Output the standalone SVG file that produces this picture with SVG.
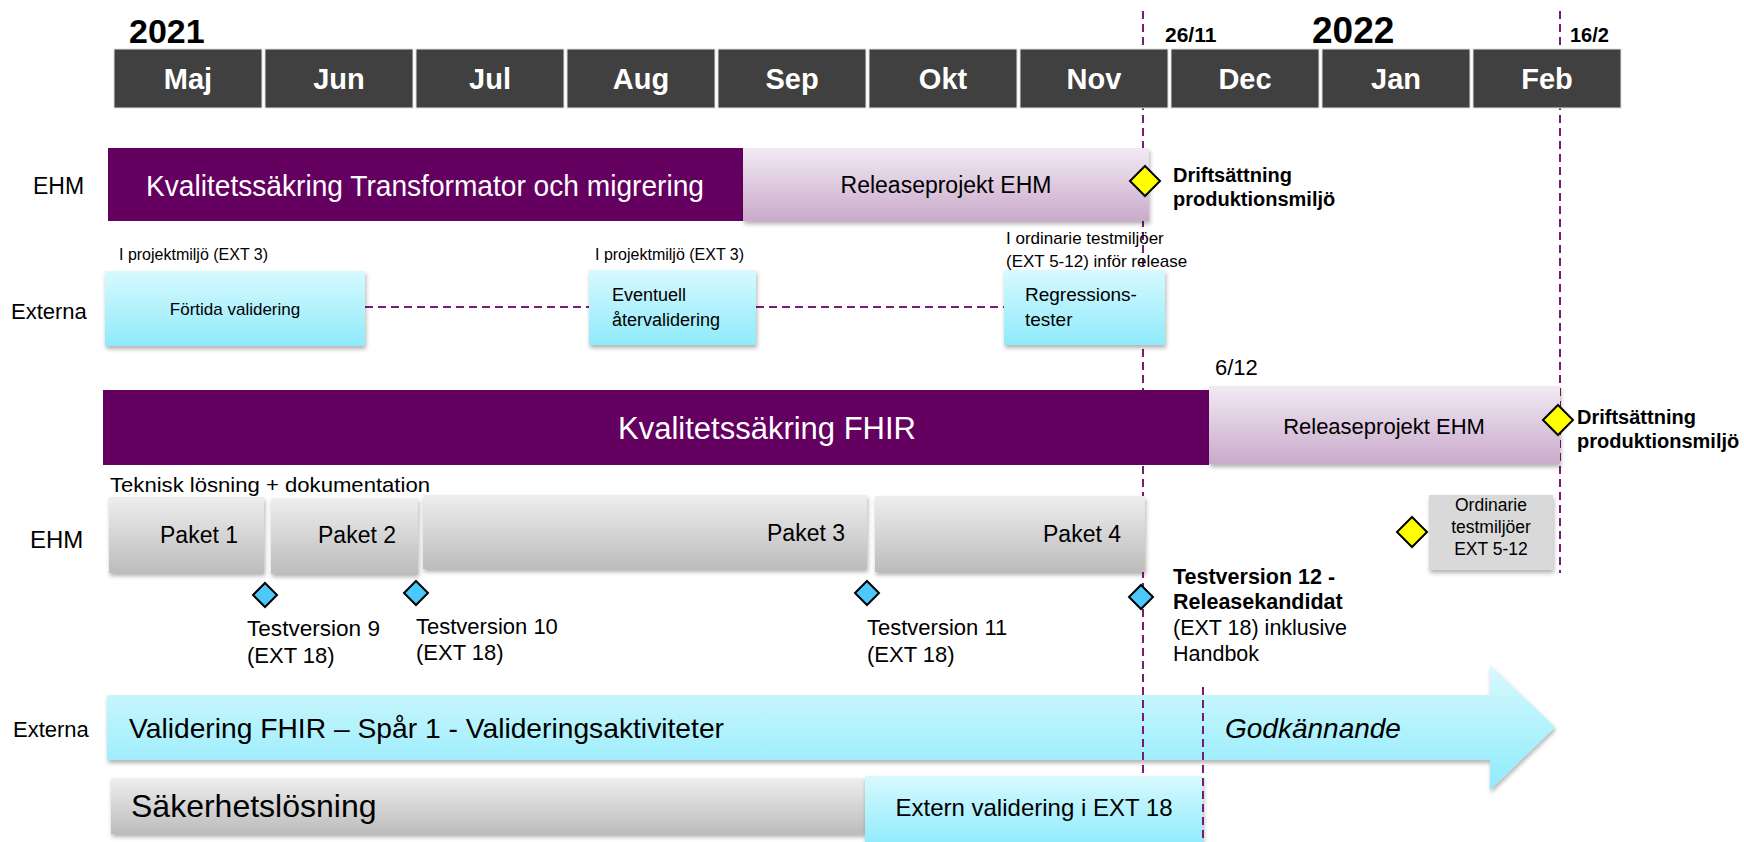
<svg xmlns="http://www.w3.org/2000/svg" width="1744" height="842" viewBox="0 0 1744 842">
<defs>
<linearGradient id="gPurple" x1="0" y1="0" x2="0" y2="1"><stop offset="0" stop-color="#f1eaf3"/><stop offset="1" stop-color="#caaacb"/></linearGradient>
<linearGradient id="gCyan" x1="0" y1="0" x2="0" y2="1"><stop offset="0" stop-color="#d8f9fe"/><stop offset="1" stop-color="#8eebfb"/></linearGradient>
<linearGradient id="gGray" x1="0" y1="0" x2="0" y2="1"><stop offset="0" stop-color="#eeeeee"/><stop offset="1" stop-color="#bcbcbc"/></linearGradient>
<filter id="sh" x="-5%" y="-20%" width="110%" height="150%"><feDropShadow dx="1" dy="3" stdDeviation="2" flood-color="#000" flood-opacity="0.3"/></filter>
</defs>
<style>
text{font-family:"Liberation Sans",Arial,sans-serif;fill:#000}
.mon{fill:#404040;stroke:#e0e0e0;stroke-width:1}
.ml{font-size:29px;font-weight:bold;fill:#fff;text-anchor:middle}
.yr{font-weight:bold}
.dark{fill:#630060}
.lp{fill:url(#gPurple);filter:url(#sh)}
.cy{fill:url(#gCyan);filter:url(#sh)}
.gr{fill:url(#gGray);filter:url(#sh)}
.wt{fill:#fff}
.dash{stroke:#7a1a78;stroke-width:2;stroke-dasharray:8 5;fill:none}
.yd{fill:#ffff00;stroke:#000;stroke-width:2}
.bd{fill:#4cc8fa;stroke:#000;stroke-width:2}
.b{font-weight:bold}
.mid{text-anchor:middle}
</style>

<g id="validering-fhir">
<polygon class="cy" points="107,695 1490,695 1490,665 1555,727 1490,790 1490,760 107,760"/>
<text x="13" y="737" font-size="22">Externa</text>
<text x="129" y="738" font-size="28" textLength="595" lengthAdjust="spacingAndGlyphs">Validering FHIR – Spår 1 - Valideringsaktiviteter</text>
<text x="1225" y="738" font-size="28" font-style="italic">Godkännande</text>
</g>
<g id="sakerhetslosning">
<rect class="gr" x="111" y="778" width="754" height="56"/>
<text x="131" y="817" font-size="32">Säkerhetslösning</text>
</g>
<g id="extern-validering">
<rect class="cy" x="865" y="776" width="338" height="70"/>
<text class="mid" x="1034" y="816" font-size="24">Extern validering i EXT 18</text>
</g>

<g id="connectors">
<line class="dash" x1="1143" y1="11" x2="1143" y2="776"/>
<line class="dash" x1="1560" y1="11" x2="1560" y2="573"/>
<line class="dash" x1="1203" y1="687" x2="1203" y2="842"/>
<line class="dash" x1="365" y1="307" x2="589" y2="307"/>
<line class="dash" x1="756" y1="307" x2="1004" y2="307"/>
</g>

<g id="timeline">
<text class="yr" x="129" y="43" font-size="34">2021</text>
<text class="yr" x="1312" y="43" font-size="37">2022</text>
<text class="yr" x="1165" y="42" font-size="21">26/11</text>
<text class="yr" x="1570" y="42" font-size="20">16/2</text>
<rect class="mon" x="114" y="49" width="148" height="59"/><text class="ml" x="188" y="89">Maj</text>
<rect class="mon" x="265" y="49" width="148" height="59"/><text class="ml" x="339" y="89">Jun</text>
<rect class="mon" x="416" y="49" width="148" height="59"/><text class="ml" x="490" y="89">Jul</text>
<rect class="mon" x="567" y="49" width="148" height="59"/><text class="ml" x="641" y="89">Aug</text>
<rect class="mon" x="718" y="49" width="148" height="59"/><text class="ml" x="792" y="89">Sep</text>
<rect class="mon" x="869" y="49" width="148" height="59"/><text class="ml" x="943" y="89">Okt</text>
<rect class="mon" x="1020" y="49" width="148" height="59"/><text class="ml" x="1094" y="89">Nov</text>
<rect class="mon" x="1171" y="49" width="148" height="59"/><text class="ml" x="1245" y="89">Dec</text>
<rect class="mon" x="1322" y="49" width="148" height="59"/><text class="ml" x="1396" y="89">Jan</text>
<rect class="mon" x="1473" y="49" width="148" height="59"/><text class="ml" x="1547" y="89">Feb</text>
</g>

<g id="row-ehm-1">
<text x="33" y="194" font-size="23">EHM</text>
<rect class="dark" x="108" y="148" width="635" height="73"/>
<text class="wt mid" x="425" y="196" font-size="30" textLength="558" lengthAdjust="spacingAndGlyphs">Kvalitetssäkring Transformator och migrering</text>
</g>
<g id="release-ehm-1">
<rect class="lp" x="743" y="148" width="406" height="73"/>
<text class="mid" x="946" y="193" font-size="23">Releaseprojekt EHM</text>
</g>
<g id="drift-1">
<polygon class="yd" points="1145,166 1160,181 1145,196 1130,181"/>
<text class="b" x="1173" y="182" font-size="20">Driftsättning</text>
<text class="b" x="1173" y="206" font-size="20">produktionsmiljö</text>
</g>

<g id="fortida">
<text x="11" y="319" font-size="22">Externa</text>
<text x="119" y="260" font-size="16">I projektmiljö (EXT 3)</text>
<rect class="cy" x="105" y="271" width="260" height="75"/>
<text class="mid" x="235" y="315" font-size="17">Förtida validering</text>
</g>
<g id="atervalidering">
<text x="595" y="260" font-size="16">I projektmiljö (EXT 3)</text>
<rect class="cy" x="589" y="270" width="167" height="75"/>
<text x="612" y="301" font-size="18">Eventuell</text>
<text x="612" y="326" font-size="18">återvalidering</text>
</g>
<g id="regression">
<text x="1006" y="244" font-size="17">I ordinarie testmiljöer</text>
<text x="1006" y="267" font-size="17">(EXT 5-12) inför release</text>
<rect class="cy" x="1004" y="270" width="161" height="75"/>
<text x="1025" y="301" font-size="19">Regressions-</text>
<text x="1025" y="326" font-size="19">tester</text>
</g>

<g id="fhir">
<text x="1215" y="375" font-size="22">6/12</text>
<rect class="dark" x="103" y="390" width="1106" height="75"/>
<text class="wt mid" x="767" y="439" font-size="31">Kvalitetssäkring FHIR</text>
</g>
<g id="release-ehm-2">
<rect class="lp" x="1209" y="386" width="351" height="78"/>
<text class="mid" x="1384" y="434" font-size="22">Releaseprojekt EHM</text>
</g>
<g id="drift-2">
<polygon class="yd" points="1558,405 1573,420 1558,435 1543,420"/>
<text class="b" x="1577" y="424" font-size="20">Driftsättning</text>
<text class="b" x="1577" y="448" font-size="20">produktionsmiljö</text>
</g>

<g id="paket">
<text x="110" y="492" font-size="21" textLength="320" lengthAdjust="spacingAndGlyphs">Teknisk lösning + dokumentation</text>
<text x="30" y="548" font-size="24">EHM</text>
</g>
<g id="paket1"><rect class="gr" x="109" y="497" width="155" height="76"/><text class="mid" x="199" y="543" font-size="23">Paket 1</text></g>
<g id="paket2"><rect class="gr" x="271" y="498" width="147" height="76"/><text class="mid" x="357" y="543" font-size="23">Paket 2</text></g>
<g id="paket3"><rect class="gr" x="423" y="495" width="444" height="74"/><text class="mid" x="806" y="541" font-size="23">Paket 3</text></g>
<g id="paket4"><rect class="gr" x="875" y="496" width="270" height="76"/><text class="mid" x="1082" y="542" font-size="23">Paket 4</text></g>

<g id="ordinarie">
<polygon class="yd" points="1412,517 1427,532 1412,547 1397,532"/>
<rect x="1429" y="495" width="124" height="75" fill="#d9d9d9" filter="url(#sh)"/>
<text class="mid" x="1491" y="511" font-size="17.5">Ordinarie</text>
<text class="mid" x="1491" y="533" font-size="17.5">testmiljöer</text>
<text class="mid" x="1491" y="555" font-size="17.5">EXT 5-12</text>
</g>

<g id="tv9"><polygon class="bd" points="265,583 277,595 265,607 253,595"/><text x="247" y="636" font-size="22" textLength="133" lengthAdjust="spacingAndGlyphs">Testversion 9</text><text x="247" y="663" font-size="22">(EXT 18)</text></g>
<g id="tv10"><polygon class="bd" points="416,581 428,593 416,605 404,593"/><text x="416" y="634" font-size="22">Testversion 10</text><text x="416" y="660" font-size="22">(EXT 18)</text></g>
<g id="tv11"><polygon class="bd" points="867,581 879,593 867,605 855,593"/><text x="867" y="635" font-size="22">Testversion 11</text><text x="867" y="662" font-size="22">(EXT 18)</text></g>
<g id="tv12"><polygon class="bd" points="1141,585 1153,597 1141,609 1129,597"/>
<text class="b" x="1173" y="584" font-size="21.5">Testversion 12 -</text>
<text class="b" x="1173" y="609" font-size="21.5">Releasekandidat</text>
<text x="1173" y="635" font-size="21.5">(EXT 18) inklusive</text>
<text x="1173" y="661" font-size="21.5">Handbok</text>
</g>
</svg>
